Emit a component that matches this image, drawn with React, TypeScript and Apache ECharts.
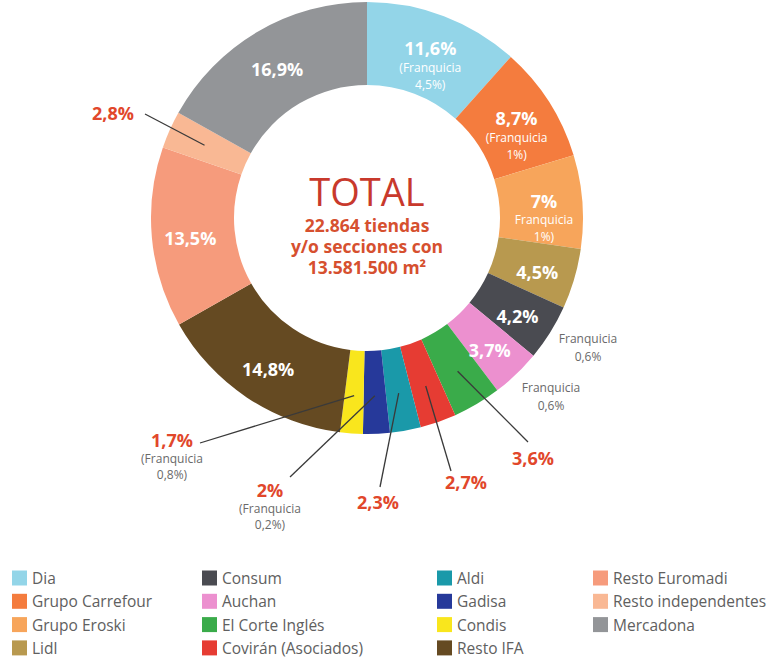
import React, { useEffect, useRef } from 'react';
import * as echarts from 'echarts';

// ---- data ----
const names = [
  'Dia', 'Grupo Carrefour', 'Grupo Eroski', 'Lidl', 'Consum', 'Auchan', 'El Corte Inglés',
  'Covirán (Asociados)', 'Aldi', 'Gadisa', 'Condis', 'Resto IFA', 'Resto Euromadi',
  'Resto independentes', 'Mercadona',
];
const values = [11.6, 8.7, 7, 4.5, 4.2, 3.7, 3.6, 2.7, 2.3, 2, 1.7, 14.8, 13.5, 2.8, 16.9];
// small "franquicia" note attached to the main label
const franqNote: (string | null)[] = [
  '(Franquicia\n4,5%)', '(Franquicia\n1%)', 'Franquicia\n1%)', null, null, null, null,
  null, null, '(Franquicia\n0,2%)', '(Franquicia\n0,8%)', null, null, null, null,
];
// separate note placed outside the ring
const outerNote: (string | null)[] = [
  null, null, null, null, 'Franquicia\n0,6%', 'Franquicia\n0,6%', null,
  null, null, null, null, null, null, null, null,
];
const insideLabel = [true, true, true, true, true, true, false, false, false, false, false, true, true, false, true];
const legendColumns = [
  ['Dia', 'Grupo Carrefour', 'Grupo Eroski', 'Lidl'],
  ['Consum', 'Auchan', 'El Corte Inglés', 'Covirán (Asociados)'],
  ['Aldi', 'Gadisa', 'Condis', 'Resto IFA'],
  ['Resto Euromadi', 'Resto independentes', 'Mercadona'],
];
const centerTitle = 'TOTAL';
const centerLines = ['22.864 tiendas', 'y/o secciones con', '13.581.500 m²'];

// ---- styles / layout ----
const colors = [
  '#93d5e8', '#f47c3e', '#f7a55b', '#b8994f', '#4a4b51', '#ec90cf', '#3aab4a',
  '#e63c33', '#1a99a9', '#26399a', '#f9e61d', '#654a22', '#f69b7c', '#f9b894', '#939598',
];
const CX = 367;
const CY = 218;
const R_IN = 133;
const R_OUT = 216;
const R_LINE = 178;
const FONT = '"Open Sans", Lato, sans-serif';
// label anchor (center x, top y) and leader line end point, per outside-labelled category
const outsideLayout: Record<string, [number, number, number, number]> = {
  'El Corte Inglés': [533, 447, 528, 442],
  'Covirán (Asociados)': [466, 471, 451, 471],
  'Aldi': [378, 491, 380, 487],
  'Gadisa': [270, 479, 290, 477],
  'Condis': [172, 429, 200, 443],
  'Resto independentes': [113, 102, 145, 114],
};
const outerNoteLayout: Record<string, [number, number]> = {
  'Consum': [588, 347],
  'Auchan': [551, 396],
};
const legendLeft = [12, 202, 437, 593];

const total = values.reduce((a, b) => a + b, 0);
const midAngle = (i: number) => {
  let cum = 0;
  for (let k = 0; k < i; k++) cum += values[k];
  return ((cum + values[i] / 2) / total) * Math.PI * 2;
};
const pct = (v: number) => String(v).replace('.', ',') + '%';

export default function App() {
  const ref = useRef<HTMLDivElement>(null);
  useEffect(() => {
    if (!ref.current) return;
    const chart = echarts.init(ref.current, undefined, { renderer: 'svg' });

    const mainData = names.map((n, i) => {
      const inside = insideLabel[i];
      const note = franqNote[i];
      let text: string;
      if (inside) {
        text = `{b|${pct(values[i])}}` + (note ? '\n' + note.split('\n').map((s) => `{s|${s}}`).join('\n') : '');
      } else {
        text = `{r|${pct(values[i])}}` + (note ? '\n' + note.split('\n').map((s) => `{g|${s}}`).join('\n') : '');
      }
      return {
        name: n,
        value: values[i],
        itemStyle: { color: colors[i] },
        label: { show: true, position: inside ? 'inside' : 'outside', formatter: text },
        labelLine: { show: false },
      };
    });

    const noteData = names.map((n, i) => ({
      name: n,
      value: values[i],
      label: outerNote[i]
        ? { show: true, position: 'outside', formatter: outerNote[i] as string }
        : { show: false },
      labelLine: { show: false },
    }));

    // leader lines: from inside the slice (at its mid angle) to the label
    const leaders = names
      .map((n, i) => ({ n, i }))
      .filter(({ n }) => outsideLayout[n])
      .map(({ n, i }) => {
        const a = midAngle(i);
        const p = outsideLayout[n];
        return {
          type: 'line',
          z: 100,
          silent: true,
          shape: { x1: CX + R_LINE * Math.sin(a), y1: CY - R_LINE * Math.cos(a), x2: p[2], y2: p[3] },
          style: { stroke: '#3a3a3a', lineWidth: 1.3 },
        };
      });

    const centerText = {
      type: 'text',
      x: CX,
      y: 168,
      silent: true,
      style: {
        text: `{t|${centerTitle}}\n` + centerLines.map((l) => `{s|${l}}`).join('\n'),
        align: 'center',
        verticalAlign: 'top',
        fontFamily: FONT,
        rich: {
          t: { fontSize: 38, lineHeight: 46, fill: '#c8392c', fontFamily: FONT, align: 'center' },
          s: { fontSize: 17.5, lineHeight: 21, fontWeight: 'bold', fill: '#d6502f', fontFamily: FONT, align: 'center' },
        },
      },
    };

    const option: any = {
      animation: false,
      textStyle: { fontFamily: FONT },
      legend: legendColumns.map((col, k) => ({
        orient: 'vertical',
        left: legendLeft[k],
        top: 570,
        height: 120,
        padding: 0,
        itemWidth: 15,
        itemHeight: 15,
        itemGap: 7.3,
        icon: 'rect',
        selectedMode: false,
        data: col,
        textStyle: { color: '#606060', fontSize: 15.5, fontFamily: FONT },
      })),
      graphic: [centerText, ...leaders],
      series: [
        {
          type: 'pie',
          center: [CX, CY],
          radius: [R_IN, R_OUT],
          startAngle: 90,
          clockwise: true,
          avoidLabelOverlap: false,
          itemStyle: { borderWidth: 0 },
          label: {
            fontFamily: FONT,
            rich: {
              b: { color: '#ffffff', fontSize: 18, fontWeight: 'bold', lineHeight: 21, fontFamily: FONT },
              s: { color: '#ffffff', fontSize: 12, lineHeight: 17, fontFamily: FONT },
              r: { color: '#e1472b', fontSize: 18, fontWeight: 'bold', lineHeight: 21, fontFamily: FONT },
              g: { color: '#6a6a6a', fontSize: 12, lineHeight: 16, fontFamily: FONT },
            },
          },
          labelLayout: (p: any) => {
            const name = names[p.dataIndex];
            const pos = outsideLayout[name];
            if (pos) {
              return { x: pos[0], y: pos[1], align: 'center', verticalAlign: 'top' };
            }
            if (franqNote[p.dataIndex]) return { dy: 13 };
            return { dy: 4 };
          },
          data: mainData,
        },
        {
          type: 'pie',
          center: [CX, CY],
          radius: [R_IN, R_OUT],
          startAngle: 90,
          clockwise: true,
          silent: true,
          avoidLabelOverlap: false,
          itemStyle: { color: 'rgba(0,0,0,0)', borderWidth: 0 },
          label: { color: '#6a6a6a', fontSize: 12, lineHeight: 18, fontFamily: FONT, align: 'center' },
          labelLayout: (p: any) => {
            const pos = outerNoteLayout[names[p.dataIndex]];
            if (!pos) return {};
            return { x: pos[0], y: pos[1], align: 'center', verticalAlign: 'middle' };
          },
          data: noteData,
        },
      ],
    };
    chart.setOption(option);
    return () => chart.dispose();
  }, []);
  return (
    <div
      ref={ref}
      style={{ position: 'fixed', left: 0, top: 0, width: 774, height: 657, background: '#ffffff' }}
    />
  );
}
